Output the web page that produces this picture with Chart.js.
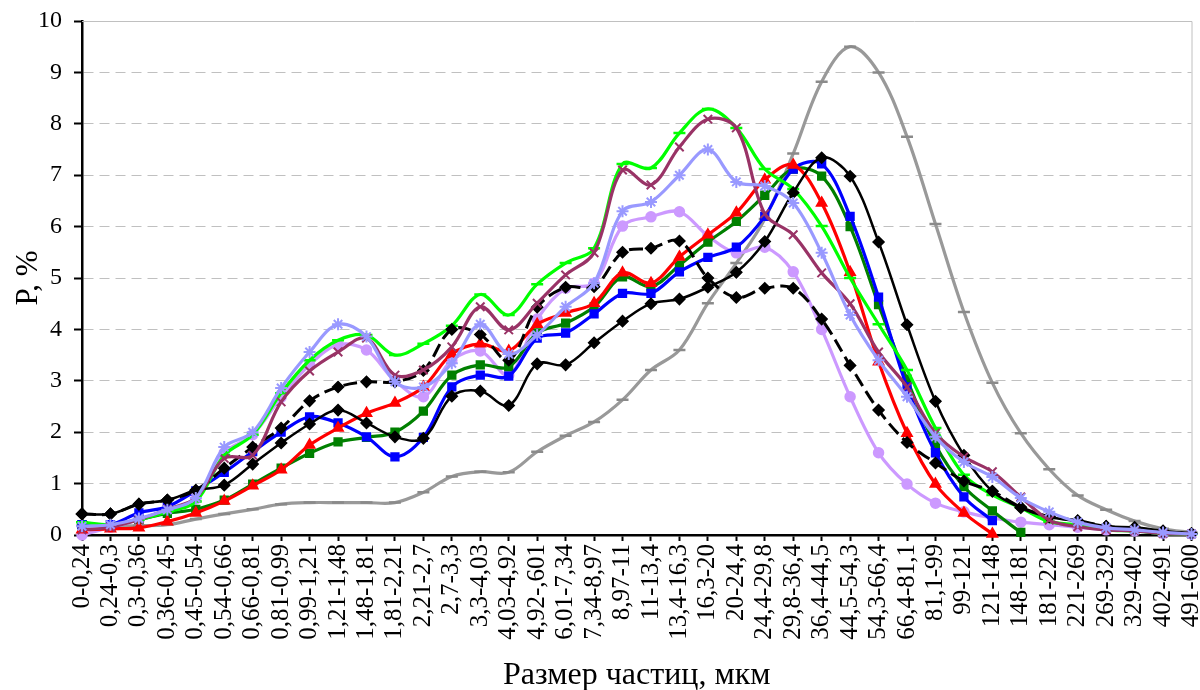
<!DOCTYPE html>
<html><head><meta charset="utf-8">
<script src="https://cdn.jsdelivr.net/npm/chart.js@4.4.1/dist/chart.umd.min.js"></script>
<style>html,body{margin:0;padding:0;background:#fff;}#wrap{width:1200px;height:690px;}</style>
</head><body><div id="wrap"><canvas id="c" width="1200" height="690"></canvas></div>
<script>
const categories = ["0-0,24","0,24-0,3","0,3-0,36","0,36-0,45","0,45-0,54","0,54-0,66","0,66-0,81","0,81-0,99","0,99-1,21","1,21-1,48","1,48-1,81","1,81-2,21","2,21-2,7","2,7-3,3","3,3-4,03","4,03-4,92","4,92-,601","6,01-7,34","7,34-8,97","8,97-11","11-13,4","13,4-16,3","16,3-20","20-24,4","24,4-29,8","29,8-36,4","36,4-44,5","44,5-54,3","54,3-66,4","66,4-81,1","81,1-99","99-121","121-148","148-181","181-221","221-269","269-329","329-402","402-491","491-600"];
const yTicks = [0,1,2,3,4,5,6,7,8,9,10];

const blackDashed = [0.41,0.41,0.6,0.68,0.87,1.3,1.71,2.08,2.61,2.88,2.98,2.98,3.2,4.0,3.9,3.4,4.43,4.82,4.83,5.5,5.58,5.72,5.0,4.62,4.8,4.8,4.2,3.3,2.43,1.8,1.4,1.05,0.85,0.54,0.36,0.28,0.17,0.12,0.05,0.03];
const blackSolid = [0.41,0.41,0.6,0.68,0.87,0.97,1.38,1.79,2.16,2.43,2.18,1.91,1.88,2.7,2.8,2.52,3.33,3.31,3.74,4.16,4.5,4.59,4.82,5.11,5.71,6.66,7.34,6.98,5.7,4.09,2.6,1.55,0.85,0.53,0.35,0.27,0.17,0.15,0.08,0.03];
const lightBlue = [0.17,0.2,0.32,0.49,0.72,1.71,2.0,2.86,3.56,4.1,3.86,2.98,2.88,3.34,4.1,3.52,3.89,4.44,4.9,6.3,6.48,7.0,7.5,6.87,6.79,6.46,5.49,4.28,3.4,2.69,1.91,1.42,1.13,0.72,0.45,0.25,0.14,0.1,0.05,0.02];
const plum = [0.1,0.15,0.3,0.5,0.72,1.49,1.55,2.59,3.19,3.56,3.83,3.11,3.21,3.66,4.44,3.99,4.51,5.06,5.49,7.1,6.81,7.55,8.09,7.92,6.25,5.84,5.1,4.5,3.56,2.88,1.98,1.52,1.23,0.74,0.29,0.16,0.1,0.08,0.03,0.02];
const lime = [0.25,0.2,0.3,0.45,0.65,1.55,1.95,2.76,3.4,3.79,3.89,3.5,3.72,4.07,4.68,4.28,4.88,5.29,5.58,7.22,7.14,7.82,8.29,7.92,7.12,6.73,6.01,5.0,4.1,3.21,2.08,1.17,0.78,0.53,0.26,0.2,0.1,0.08,0.03,0.02];
const red = [0.1,0.12,0.14,0.26,0.43,0.66,0.96,1.27,1.75,2.08,2.37,2.57,2.88,3.52,3.72,3.58,4.1,4.32,4.51,5.1,4.9,5.41,5.84,6.27,6.91,7.2,6.46,5.11,3.37,1.98,0.99,0.43,0.02,null,null,null,null,null,null,null];
const blue = [0.2,0.2,0.43,0.55,0.86,1.22,1.62,2.0,2.3,2.18,1.91,1.52,1.9,2.88,3.11,3.09,3.83,3.93,4.3,4.7,4.7,5.12,5.4,5.6,6.2,7.12,7.22,6.2,4.63,2.88,1.6,0.74,0.28,null,null,null,null,null,null,null];
const darkGreen = [0.2,0.2,0.3,0.42,0.5,0.68,0.99,1.3,1.59,1.81,1.9,2.0,2.41,3.11,3.31,3.27,3.93,4.12,4.44,5.02,4.83,5.25,5.7,6.1,6.61,7.12,6.98,6.0,4.48,3.03,1.75,0.94,0.47,0.05,null,null,null,null,null,null];
const lightViolet = [0.0,0.15,0.29,0.49,0.7,1.6,1.95,2.68,3.31,3.7,3.6,3.0,2.69,3.4,3.58,3.11,4.2,4.8,4.9,6.01,6.19,6.29,5.82,5.49,5.6,5.12,4.0,2.69,1.6,0.99,0.62,0.45,0.33,0.25,0.2,0.15,0.1,0.08,0.03,0.02];
const gray = [0.18,0.18,0.18,0.2,0.31,0.41,0.5,0.6,0.63,0.63,0.63,0.63,0.83,1.14,1.23,1.22,1.62,1.93,2.2,2.63,3.21,3.6,4.51,5.29,6.15,7.42,8.82,9.5,9.0,7.75,6.05,4.34,2.96,1.98,1.28,0.77,0.49,0.27,0.12,0.05];

function ds(data, color, style, radius, opts) {
  return Object.assign({
    data: data, borderColor: color, backgroundColor: color,
    pointBackgroundColor: color, pointBorderColor: color,
    pointStyle: style, pointRadius: radius, pointBorderWidth: 1.5,
    borderWidth: 3.2, tension: 0.35, fill: false, spanGaps: false,
    clip: {left: 10, right: 10, top: 10, bottom: 10}
  }, opts || {});
}

const frame = {
  id: 'frame',
  beforeDatasetsDraw(chart) {
    const a = chart.chartArea, c = chart.ctx;
    c.save();
    c.strokeStyle = '#c0c0c0'; c.lineWidth = 1; c.setLineDash([]);
    c.beginPath();
    c.moveTo(a.left, a.top + 0.5); c.lineTo(a.right + 0.5, a.top + 0.5); c.lineTo(a.right + 0.5, a.bottom);
    c.stroke();
    c.restore();
  }
};

new Chart(document.getElementById('c'), {
  type: 'line',
  data: {
    labels: categories,
    datasets: [
      ds(lightBlue, '#9999FF', 'star', 6, {pointBorderWidth: 2}),
      ds(plum, '#993366', 'crossRot', 6, {pointBorderWidth: 2}),
      ds(blackDashed, '#000000', 'rectRot', 5.5, {borderDash: [14, 6], borderWidth: 3}),
      ds(blackSolid, '#000000', 'rectRot', 5.5, {borderWidth: 2.5}),
      ds(lime, '#00FF00', 'line', 6, {pointBorderWidth: 2.5}),
      ds(red, '#FF0000', 'triangle', 6),
      ds(blue, '#0000FF', 'rect', 5.5),
      ds(darkGreen, '#008000', 'rect', 5.5),
      ds(lightViolet, '#CC99FF', 'circle', 5),
      ds(gray, '#999999', 'line', 6, {pointBorderColor: '#8a8a8a', pointBorderWidth: 2.5})
    ]
  },
  options: {
    responsive: false, animation: false, devicePixelRatio: 1,
    layout: {padding: {top: 21, right: 8, left: 0, bottom: 0}},
    plugins: {legend: {display: false}, tooltip: {enabled: false}},
    scales: {
      x: {
        type: 'category', offset: false,
        grid: {display: true, drawOnChartArea: false, drawTicks: true, tickLength: 6, tickWidth: 2, tickColor: '#000', color: '#000', tickBorderDash: []},
        border: {display: true, color: '#000', width: 2.5},
        ticks: {autoSkip: false, maxRotation: 90, minRotation: 90, padding: 3, color: '#000', font: {family: 'Liberation Serif', size: 25}},
        title: {display: true, text: 'Размер частиц, мкм', color: '#000', font: {family: 'Liberation Serif', size: 32}, padding: {top: 0, bottom: -5}},
        afterFit(s) { s.height = 155; s.paddingLeft = 0; s.paddingRight = 0; }
      },
      y: {
        min: 0, max: 10,
        afterBuildTicks(s) { s.ticks = yTicks.map(v => ({value: v})); },
        grid: {color: '#c0c0c0', lineWidth: 1, drawTicks: true, tickLength: 8, tickWidth: 2, tickColor: '#000', tickBorderDash: []},
        border: {display: true, color: '#000', width: 2.5, dash: [10, 6]},
        ticks: {padding: 12, color: '#000', font: {family: 'Liberation Serif', size: 24}},
        title: {display: true, text: 'P, %', color: '#000', font: {family: 'Liberation Serif', size: 31}, padding: {top: 10, bottom: 0}},
        afterFit(s) { s.width = 82; s.paddingTop = 0; s.paddingBottom = 0; }
      }
    }
  },
  plugins: [frame]
});
</script>
</body></html>
